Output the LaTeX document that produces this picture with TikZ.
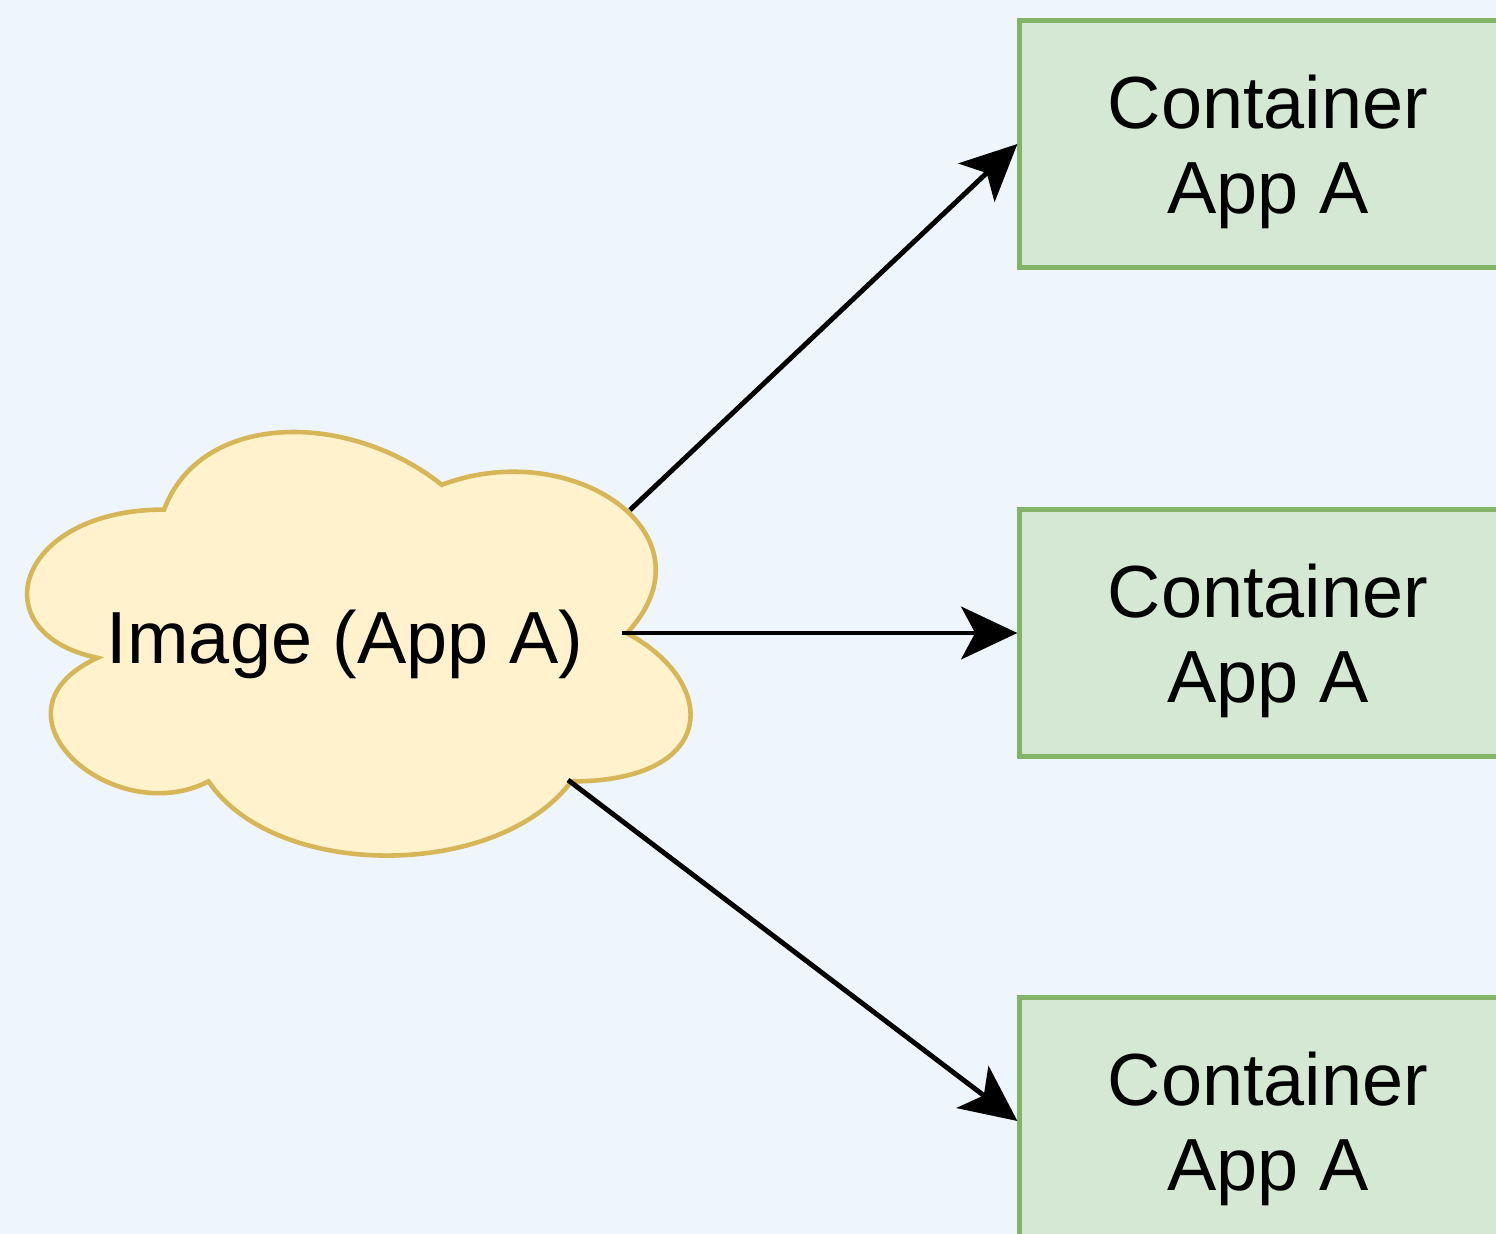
\documentclass[tikz,border=0pt]{standalone}
\usepackage{fontspec}
\setmainfont{Liberation Sans}
\usetikzlibrary{arrows.meta,positioning}
\definecolor{bgblue}{RGB}{238,245,252}
\definecolor{cloudfill}{RGB}{255,242,204}
\definecolor{cloudline}{RGB}{214,182,86}
\definecolor{boxfill}{RGB}{213,232,212}
\definecolor{boxline}{RGB}{130,179,102}
\tikzset{
	container/.style={draw=boxline, fill=boxfill, line width=1.4pt, minimum width=4.96cm, minimum height=2.46cm, align=center, text depth=0pt, font=\fontsize{21}{24.2}\selectfont},
	imgtext/.style={text depth=0pt, font=\fontsize{21}{24.2}\selectfont},
	link/.style={line width=1.4pt, -{Stealth[length=16pt,width=15pt,inset=4pt]}}
}

\begin{document}
\begin{tikzpicture}[x=0.01cm, y=-0.01cm]
	\useasboundingbox (0,0) rectangle (1496,1234);
	\clip (0,0) rectangle (1496,1234);
	\fill[bgblue] (0,0) rectangle (1496,1234);
	\begin{scope}[shift={(-21,386)}, x=7.4cm, y=-4.94cm]
		\draw[cloudline, fill=cloudfill, line width=1.3pt] (0.25,0.25)
			.. controls (0.05,0.25) and (0,0.5) .. (0.16,0.55)
			.. controls (0,0.66) and (0.18,0.9) .. (0.31,0.8)
			.. controls (0.4,1) and (0.7,1) .. (0.8,0.8)
			.. controls (1,0.8) and (1,0.6) .. (0.875,0.5)
			.. controls (1,0.3) and (0.8,0.1) .. (0.625,0.2)
			.. controls (0.5,0.05) and (0.3,0.05) .. (0.25,0.25) -- cycle;
	\end{scope}
	\node[imgtext] (img) at (345,637) {Image (App A)};
	\coordinate (imgtop) at (630,510);
	\coordinate (imgmid) at (622,633);
	\coordinate (imgbot) at (568,780);
	\foreach \idx/\ypos in {1/144, 2/633, 3/1121} {
		\node[container] (app\idx) at (1268,\ypos) {Container\\App A};
	}
	\draw[link] (imgtop) -- (app1.west);
	\draw[link] (imgmid) -- (app2.west);
	\draw[link] (imgbot) -- (app3.west);
\end{tikzpicture}
\end{document}
